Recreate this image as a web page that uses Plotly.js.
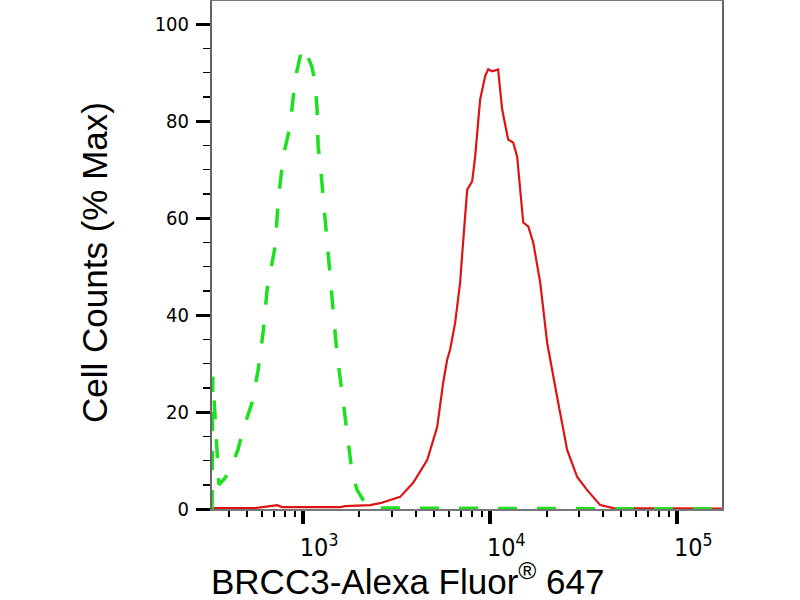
<!DOCTYPE html>
<html>
<head>
<meta charset="utf-8">
<script src="https://cdn.plot.ly/plotly-3.0.1.min.js"></script>
<style>html,body{margin:0;padding:0;background:#fff;}#chart{width:800px;height:600px;}</style>
</head>
<body>
<div id="chart"></div>
<script>
// Isotype control (green dashed)
const controlX = [326, 329, 355, 383, 407, 448, 478, 533, 575, 611, 642, 708, 735, 763, 782, 851, 906, 987, 1024, 1117, 1159, 1188, 1203, 1233, 1279, 1344, 1395, 1447, 1519, 1615, 1718, 1828, 1943, 2093, 2340, 173000];
const controlY = [0, 27.3, 5.0, 6.4, 8.1, 12.2, 16.3, 21.9, 28.7, 36.4, 45.2, 54.1, 63.2, 69.4, 72.7, 78.9, 88.6, 95.2, 94.8, 91.1, 88.0, 82.4, 74.8, 71.5, 64.5, 56.2, 49.4, 41.7, 31.8, 24.0, 15.7, 7.4, 3.9, 1.9, 0.2, 0];

// BRCC3 stained sample (red solid)
const sampleX = [326, 554, 666, 726, 772, 1579, 1677, 2281, 2580, 2919, 3301, 3874, 4605, 5207, 5604, 5886, 6108, 6495, 6905, 7164, 7536, 8009, 8309, 8835, 9401, 9756, 10241, 11021, 11587, 12478, 13267, 13935, 15018, 15969, 16981, 18509, 20159, 22790, 25786, 29176, 33001, 38739, 45439, 173000];
const sampleY = [0.2, 0.2, 0.6, 0.8, 0.4, 0.4, 0.6, 0.8, 1.2, 1.9, 2.5, 5.4, 10.1, 16.9, 26.0, 30.8, 32.9, 38.4, 46.7, 55.0, 65.9, 67.6, 72.7, 84.5, 89.3, 90.7, 90.3, 90.7, 82.4, 76.2, 75.6, 72.7, 59.1, 58.3, 55.0, 46.7, 34.3, 23.1, 12.2, 6.6, 3.9, 0.8, 0.2, 0.1];

const yTickVals = [0, 20, 40, 60, 80, 100];
const xTitle = 'BRCC3-Alexa Fluor<sup>®</sup> 647';
const yTitle = 'Cell Counts (% Max)';

const tickFont = {family: '"Liberation Sans Narrow", "Arial Narrow", "DejaVu Sans Condensed", sans-serif', size: 20, color: '#000'};
const titleFont = {family: '"Liberation Sans", Arial, sans-serif', size: 35, color: '#000'};

const traces = [
  {x: sampleX, y: sampleY, type: 'scatter', mode: 'lines',
   line: {color: 'rgb(220,20,20)', width: 2.2}, hoverinfo: 'skip'},
  {x: controlX, y: controlY, type: 'scatter', mode: 'lines',
   line: {color: 'rgb(30,225,30)', width: 3.5, dash: '19px,20px'}, hoverinfo: 'skip'}
];

const layout = {
  width: 800, height: 600,
  margin: {l: 212, r: 78, t: 1, b: 91},
  paper_bgcolor: '#fff', plot_bgcolor: '#fff',
  showlegend: false,
  xaxis: {
    type: 'log', range: [2.513, 5.239],
    dtick: 1, exponentformat: 'power', showexponent: 'all',
    ticks: 'outside', ticklen: 13, tickwidth: 4, tickcolor: '#000',
    minor: {ticks: 'outside', ticklen: 6, tickwidth: 2, tickcolor: '#000', dtick: 'D1', showgrid: false},
    showgrid: false, zeroline: false,
    showline: true, linecolor: '#777', linewidth: 2, mirror: true,
    tickfont: tickFont, ticklabelshift: 16, ticklabelstandoff: 3
  },
  yaxis: {
    range: [0, 104.8],
    tickvals: yTickVals,
    ticks: 'outside', ticklen: 14, tickwidth: 3, tickcolor: '#000',
    minor: {ticks: 'outside', ticklen: 7, tickwidth: 1.5, tickcolor: '#000', dtick: 5, tick0: 0, showgrid: false},
    showgrid: false, zeroline: false,
    showline: true, linecolor: '#666', linewidth: 2, mirror: true,
    tickfont: tickFont, ticklabelstandoff: 3
  },
  annotations: [
    {text: xTitle, xref: 'paper', yref: 'paper', x: 0.384, y: -0.137,
     xanchor: 'center', yanchor: 'middle', showarrow: false, font: titleFont},
    {text: yTitle, xref: 'paper', yref: 'paper', x: -0.2294, y: 0.4843,
     xanchor: 'center', yanchor: 'middle', showarrow: false, textangle: -90, font: titleFont}
  ]
};

Plotly.newPlot('chart', traces, layout, {staticPlot: true, displayModeBar: false});
</script>
</body>
</html>
